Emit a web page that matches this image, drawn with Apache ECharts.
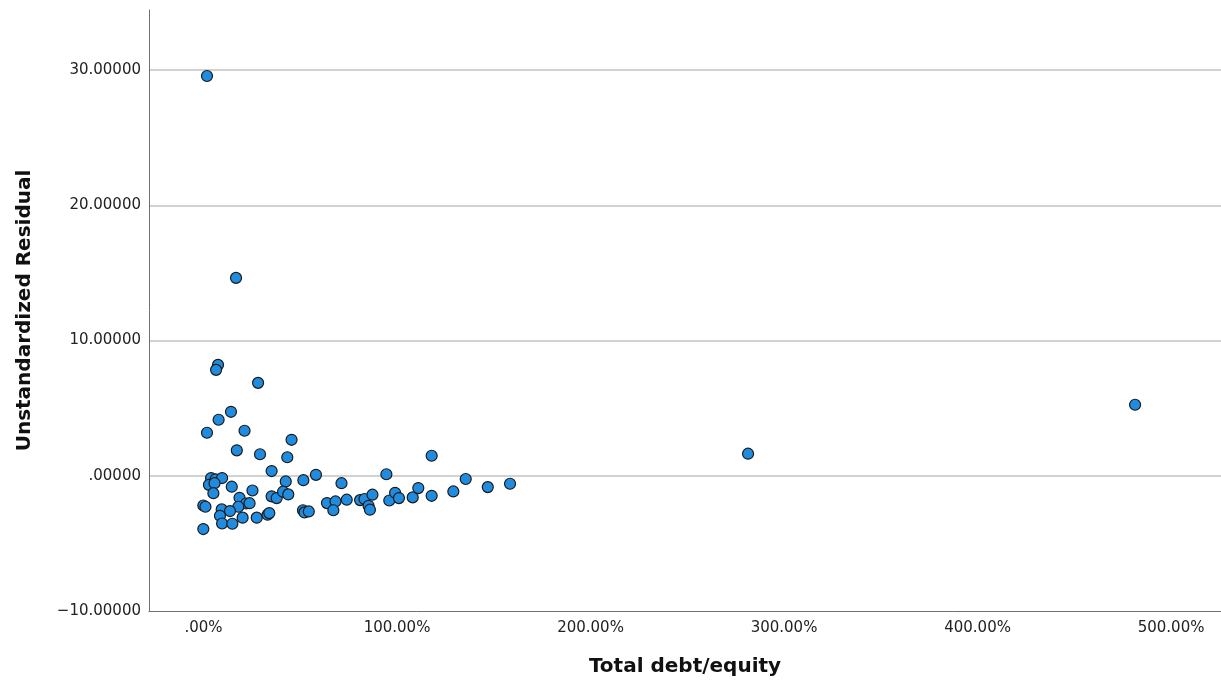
<!DOCTYPE html>
<html>
<head>
<meta charset="utf-8">
<title>Unstandardized Residual vs Total debt/equity</title>
<script src="https://cdn.jsdelivr.net/npm/echarts@6/dist/echarts.min.js"></script>
<style>
  html, body { margin: 0; padding: 0; background: #ffffff; }
  #chart { width: 1221px; height: 684px; }
</style>
</head>
<body>
<div id="chart"></div>
<script>
// Total debt/equity (%) for each observation
const debtEquity = [
  1.8, 16.8, 7.5, 6.5, 28.2, 14.2, 7.8, 21.2, 1.8, 45.5,
  17.2, 29.2, 43.3, 117.9, 281.4, 481.4, 35.2, 58.1, 94.5,
  3.9, 6.2, 9.6, 2.8, 5.7, 5.1, 14.6, 25.3, 42.5, 51.6,
  71.3, 35.2, 37.8, 41.1, 43.8, -0.1, 1.0, 18.6, 22.0, 23.8,
  18.0, 9.4, 13.7, 8.5, 20.2, 27.5, 33.1, 34.0, 9.6, 14.9,
  -0.1, 51.4, 52.2, 54.4, 63.8, 68.2, 67.1, 74.0, 80.9, 83.2,
  85.3, 86.0, 87.3, 96.0, 99.0, 101.0, 108.1, 111.0, 117.9, 129.1,
  135.5, 146.9, 158.4
];

// Unstandardized residual for each observation (same order)
const residual = [
  29.56, 14.63, 8.20, 7.83, 6.87, 4.73, 4.14, 3.33, 3.18, 2.66,
  1.88, 1.59, 1.37, 1.48, 1.63, 5.25, 0.35, 0.07, 0.11,
  -0.17, -0.26, -0.17, -0.67, -0.55, -1.29, -0.81, -1.09, -0.42, -0.33,
  -0.55, -1.52, -1.65, -1.18, -1.38, -2.20, -2.29, -1.63, -2.05, -2.03,
  -2.29, -2.49, -2.61, -2.96, -3.10, -3.10, -2.88, -2.76, -3.53, -3.55,
  -3.94, -2.55, -2.71, -2.64, -2.02, -1.90, -2.55, -1.77, -1.80, -1.72,
  -2.22, -2.51, -1.40, -1.83, -1.26, -1.65, -1.60, -0.91, -1.48, -1.16,
  -0.24, -0.84, -0.59
];

// Axis tick labels
const xTickValues = [0, 100, 200, 300, 400, 500];
const yTickInterval = 10;

const points = debtEquity.map((x, i) => [x, residual[i]]);

function fmtY(v) {
  if (Math.abs(v) < 1e-9) return '.00000';
  const s = Math.abs(v).toFixed(5);
  return (v < 0 ? '\u2212' : '') + s;
}
function fmtX(v) {
  if (Math.abs(v) < 1e-9) return '.00%';
  return v.toFixed(2) + '%';
}

const chart = echarts.init(document.getElementById('chart'), null, { renderer: 'canvas' });

const labelFont = { fontFamily: 'DejaVu Sans', fontSize: 15, color: '#222222' };
const nameFont = { fontFamily: 'DejaVu Sans', fontSize: 20, fontWeight: 'bold', color: '#111111' };

chart.setOption({
  animation: false,
  backgroundColor: '#ffffff',
  grid: { left: 149, right: 0, top: 10, bottom: 73, containLabel: false },
  xAxis: {
    type: 'value',
    min: -28.17,
    max: 525.8,
    name: 'Total debt/equity',
    nameLocation: 'middle',
    nameGap: 46,
    nameTextStyle: nameFont,
    axisLine: { show: true, onZero: false, lineStyle: { color: '#707070', width: 1 } },
    axisTick: { show: false },
    splitLine: { show: false },
    axisLabel: Object.assign({
      customValues: xTickValues,
      margin: 10,
      formatter: fmtX
    }, labelFont)
  },
  yAxis: {
    type: 'value',
    min: -10,
    max: 34.44,
    interval: yTickInterval,
    name: 'Unstandardized Residual',
    nameLocation: 'middle',
    nameGap: 114,
    nameTextStyle: nameFont,
    axisLine: { show: true, onZero: false, lineStyle: { color: '#707070', width: 1 } },
    axisTick: { show: false },
    splitLine: { show: true, showMaxLine: false, showMinLine: false, lineStyle: { color: '#d2d2d2', width: 2 } },
    axisLabel: Object.assign({
      margin: 8,
      showMaxLabel: false,
      formatter: fmtY
    }, labelFont)
  },
  series: [{
    type: 'scatter',
    data: points,
    symbol: 'circle',
    symbolSize: 11,
    itemStyle: { color: '#1f8ce0', borderColor: '#1a1a1a', borderWidth: 1.2, opacity: 1 },
    emphasis: { disabled: true }
  }]
});
</script>
</body>
</html>
